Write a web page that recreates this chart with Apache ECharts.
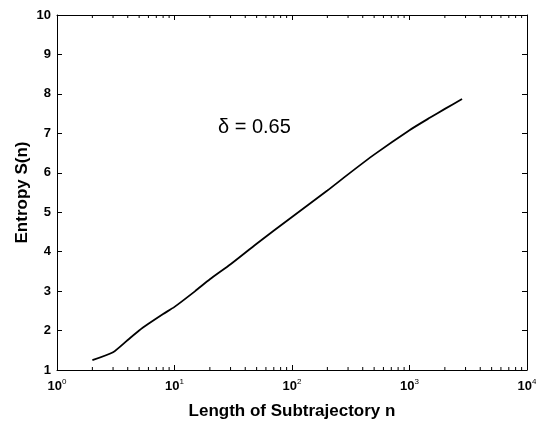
<!DOCTYPE html>
<html>
<head>
<meta charset="utf-8">
<script src="https://cdn.jsdelivr.net/npm/echarts@6/dist/echarts.min.js"></script>
<style>
  html, body { margin: 0; padding: 0; background: #fff; }
  #main { width: 536px; height: 421px; }
</style>
</head>
<body>
<div id="main"></div>
<script>
// subtrajectory length n and entropy S(n)
const lengths = [2, 3, 4, 5, 6, 8, 10, 15, 20, 30, 50, 100, 200, 300, 500, 1000, 1500, 2000, 2800]
const entropy = [1.25, 1.45, 1.76, 2.0, 2.17, 2.42, 2.6, 3.0, 3.3, 3.68, 4.2, 4.88, 5.55, 5.96, 6.46, 7.08, 7.4, 7.62, 7.87]
const note = 'δ = 0.65'

// minor tick positions 2..9 x 10^k
const minorTicks = []
for (let k = 0; k < 4; k++) {
  for (let m = 2; m <= 9; m++) minorTicks.push(m * Math.pow(10, k))
}

const chart = echarts.init(document.getElementById('main'))
const font = 'Liberation Sans, Arial, sans-serif'

const option = {
  animation: false,
  grid: { left: 57, top: 15, right: 9, bottom: 51, outerBoundsMode: 'none' },
  xAxis: [
    {
      type: 'log', logBase: 10, min: 1, max: 10000,
      name: 'Length of Subtrajectory n', nameLocation: 'middle', nameGap: 33,
      nameMoveOverlap: false,
      nameTextStyle: { fontFamily: font, fontSize: 17, fontWeight: 'bold', color: '#000' },
      axisLine: { lineStyle: { color: '#000', width: 1 } },
      axisTick: { inside: true, length: 5, lineStyle: { color: '#000' } },
      splitLine: { show: false },
      axisLabel: {
        fontFamily: font, fontSize: 12, color: '#000', margin: 8,
        formatter: function (v) {
          return '{b|10}{s|' + Math.round(Math.log10(v)) + '}'
        },
        rich: {
          b: { fontFamily: font, fontSize: 13, fontWeight: 'bold', color: '#000' },
          s: { fontFamily: font, fontSize: 8, color: '#000', verticalAlign: 'top', padding: [0, 0, 8, 0] }
        }
      }
    },
    {
      type: 'log', logBase: 10, min: 1, max: 10000, position: 'top',
      axisLine: { lineStyle: { color: '#000', width: 1 } },
      axisTick: { inside: true, length: 5, lineStyle: { color: '#000' } },
      axisLabel: { show: false },
      splitLine: { show: false }
    }
  ],
  yAxis: [
    {
      type: 'value', min: 1, max: 10, interval: 1,
      name: 'Entropy S(n)', nameLocation: 'middle', nameGap: 26,
      nameMoveOverlap: false,
      nameTextStyle: { fontFamily: font, fontSize: 17, fontWeight: 'bold', color: '#000' },
      axisLine: { show: true, lineStyle: { color: '#000', width: 1 } },
      axisTick: { show: true, inside: true, length: 5, lineStyle: { color: '#000' } },
      splitLine: { show: false },
      axisLabel: { fontFamily: font, fontSize: 13, fontWeight: 'bold', color: '#000', margin: 6 }
    },
    {
      type: 'value', min: 1, max: 10, interval: 1, position: 'right',
      axisLine: { show: true, lineStyle: { color: '#000', width: 1 } },
      axisTick: { show: true, inside: true, length: 5, lineStyle: { color: '#000' } },
      axisLabel: { show: false },
      splitLine: { show: false }
    }
  ],
  series: [
    {
      type: 'line',
      data: lengths.map((n, i) => [n, entropy[i]]),
      showSymbol: false,
      smooth: 0.2,
      lineStyle: { color: '#000', width: 1.8 }
    },
    {
      // minor ticks on bottom and top edges
      type: 'custom',
      silent: true,
      data: minorTicks.map(v => [v]),
      renderItem: function (params, api) {
        const x = api.coord([api.value(0), 1])[0]
        const yb = api.coord([1, 1])[1]
        const yt = api.coord([1, 10])[1]
        return {
          type: 'group',
          children: [
            { type: 'line', shape: { x1: x, y1: yb, x2: x, y2: yb - 3 }, style: { stroke: '#000', lineWidth: 1 } },
            { type: 'line', shape: { x1: x, y1: yt, x2: x, y2: yt + 3 }, style: { stroke: '#000', lineWidth: 1 } }
          ]
        }
      }
    }
  ],
  graphic: [
    {
      type: 'text', left: 218, top: 117,
      style: { text: note, fontFamily: font, fontSize: 20, fill: '#000' }
    }
  ]
}

chart.setOption(option)
</script>
</body>
</html>
